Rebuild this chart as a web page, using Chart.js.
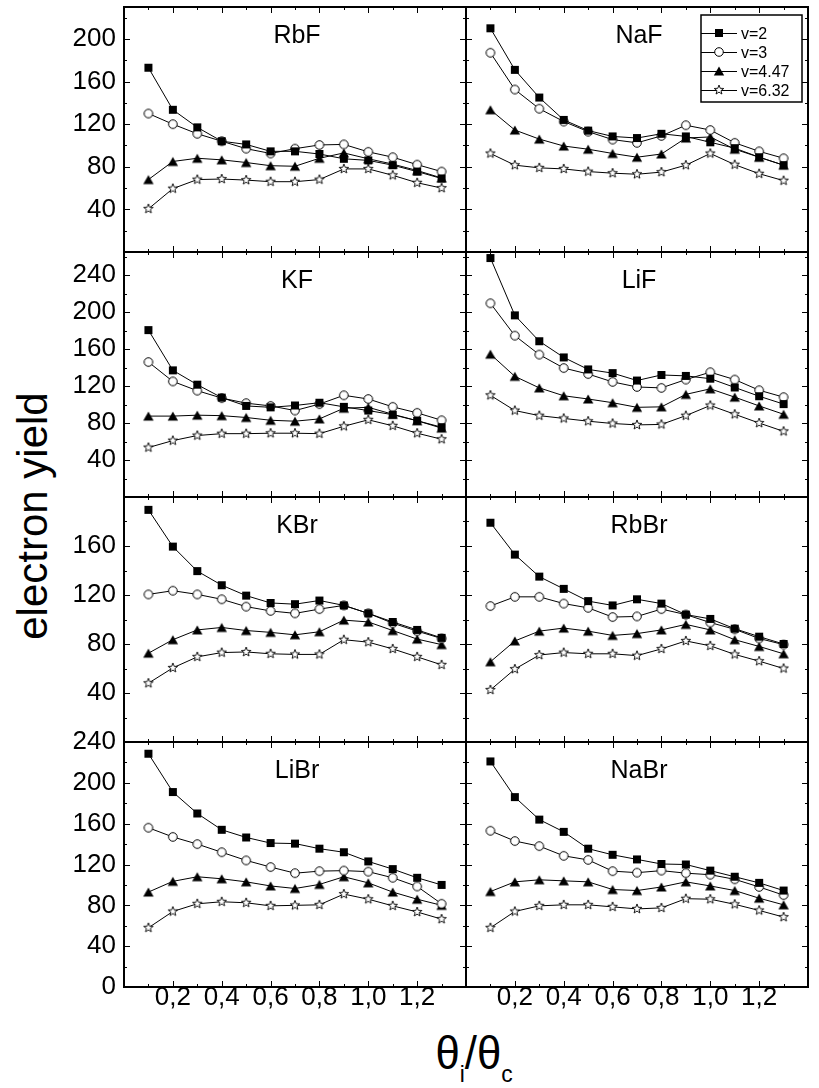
<!DOCTYPE html>
<html>
<head>
<meta charset="utf-8">
<title>electron yield</title>
<script src="https://cdn.jsdelivr.net/npm/chart.js@4.4.0/dist/chart.umd.min.js"></script>
<style>
  body { margin: 0; background: #fff; }
  #wrap { position: relative; width: 819px; height: 1088px; overflow: hidden; font-family: "Liberation Sans", Arial, sans-serif; }
  #wrap canvas { position: absolute; }
  #ytitle { position: absolute; left: 33px; top: 516px; transform: translate(-50%, -50%) rotate(-90deg); font-size: 42px; line-height: 1; white-space: nowrap; color: #000; }
  #xtitle { position: absolute; left: 474px; top: 1030px; transform: translateX(-50%) scaleX(0.95); font-size: 46px; line-height: 1; white-space: nowrap; color: #000; }
  #xtitle sub { font-size: 24px; vertical-align: -13px; }
</style>
</head>
<body>
<div id="wrap">
  <div id="ytitle">electron yield</div>
  <div id="xtitle">θ<sub>i</sub>/θ<sub>c</sub></div>
</div>
<script>
'use strict';

// incidence angle over critical angle
let thetaRatio = [0.1, 0.2, 0.3, 0.4, 0.5, 0.6, 0.7, 0.8, 0.9, 1.0, 1.1, 1.2, 1.3];
let xTickValues = [0.2, 0.4, 0.6, 0.8, 1.0, 1.2];
let xTickLabels = ['0,2', '0,4', '0,6', '0,8', '1,0', '1,2'];
let seriesLabels = ['v=2', 'v=3', 'v=4.47', 'v=6.32'];

// each salt: yields for v=2, v=3, v=4.47, v=6.32
let RbF = [
  [173, 133.5, 117, 104, 101, 94.5, 94.5, 92, 87.5, 86, 81.5, 75.5, 69],
  [130, 120, 111, 104, 97, 92.5, 97, 100.5, 101, 94, 89, 82, 75.5],
  [68, 85, 88, 86.5, 84, 81, 80.5, 88, 93, 87.5, 82.5, 76.5, 69.5],
  [40.5, 59.5, 68, 68.5, 67.5, 66, 66, 68, 78, 78, 72, 65, 60]
];
let NaF = [
  [210, 171, 145, 124, 114, 108.5, 107, 111, 108.5, 103, 97.5, 89, 81.5],
  [187, 152.5, 134.5, 122.5, 113, 105.5, 102.5, 109, 119, 114.5, 102.5, 94.5, 88],
  [133.5, 114.5, 106, 99.5, 96.5, 92.5, 89, 92, 107, 108, 96.5, 89, 81.5],
  [92.5, 81.5, 79, 78, 75.5, 74, 73, 75, 81.5, 92.5, 82, 73.5, 67]
];
let KF = [
  [180.5, 137, 121.5, 107.5, 98.5, 97, 99, 102, 97.5, 93.5, 89, 82.5, 75.5],
  [146, 125, 115, 107, 101.5, 98.5, 93.5, 100.5, 110, 106, 97.5, 91, 83],
  [87.5, 87.5, 88.5, 88, 86, 83, 82, 84.5, 96, 97, 89.5, 82.5, 74.5],
  [53.5, 61, 66.5, 68.5, 68.5, 69, 69, 68.5, 76.5, 83.5, 77, 69, 62.5]
];
let LiF = [
  [258.5, 196.5, 168.5, 151, 138, 134, 126, 132, 131, 128, 118.5, 109, 100.5],
  [209.5, 174.5, 154, 139.5, 133, 124.5, 119, 118, 127, 135, 127, 115.5, 108],
  [154.5, 130.5, 118, 109.5, 106, 102, 97, 97.5, 111, 117, 108, 98.5, 89.5],
  [110, 93.5, 88, 85, 82, 79.5, 78, 78.5, 88, 99, 89.5, 80, 71]
];
let KBr = [
  [189.5, 159.5, 139.5, 128, 119.5, 113.5, 112.5, 115.5, 111.5, 105, 98, 91.5, 85],
  [120.5, 123.5, 120.5, 116.5, 110.5, 107, 105, 108.5, 111.5, 105, 97, 90.5, 84.5],
  [72.5, 83.5, 91.5, 93.5, 91, 89.5, 87.5, 90, 99.5, 98, 91, 84, 79.5],
  [48, 60.5, 69.5, 73, 73.5, 72, 71.5, 71.5, 83.5, 81.5, 76, 69.5, 63]
];
let RbBr = [
  [179, 153, 135, 125, 115, 111.5, 116.5, 113, 104, 100.5, 92.5, 86, 80],
  [111, 118.5, 118.5, 113, 109.5, 102, 102.5, 108.5, 104, 97.5, 92, 84.5, 79.5],
  [65.5, 82.5, 90.5, 93, 90.5, 87, 88.5, 91.5, 96, 91.5, 83.5, 78, 72],
  [42.5, 59.5, 71, 73, 72, 72, 70.5, 76, 82.5, 78.5, 71.5, 66, 60]
];
let LiBr = [
  [228.5, 191, 170, 154, 146.5, 141, 140.5, 135.5, 132, 123, 115.5, 107, 100],
  [156, 147, 140, 132, 124, 117.5, 111.5, 113.5, 114, 113, 107, 98.5, 81.5],
  [93, 103.5, 108, 106, 103, 99, 96.5, 100.5, 108, 102, 93, 86, 80],
  [58, 74, 81.5, 83.5, 82.5, 79.5, 80, 80.5, 91, 86, 79.5, 73.5, 66.5]
];
let NaBr = [
  [221, 186, 164, 152, 135.5, 129.5, 125, 120.5, 120, 114, 108, 102, 94.5],
  [153, 143, 138, 128.5, 124.5, 113.5, 112, 114, 111.5, 110, 105.5, 98, 90],
  [93.5, 103, 105, 104, 103, 95.5, 94.5, 98, 103, 99, 94.5, 87, 80.5],
  [58, 74, 79.5, 80.5, 80.5, 78.5, 76.5, 77.5, 86.5, 86, 81, 75, 68.5]
];

// y range and labelled ticks of each row
let rowMax = [230, 265, 200, 240];
let rowTicks = [
  [40, 80, 120, 160, 200],
  [40, 80, 120, 160, 200, 240],
  [40, 80, 120, 160],
  [0, 40, 80, 120, 160, 200, 240]
];

let panels = [
  { name: 'RbF', data: RbF, row: 0, col: 0 },
  { name: 'NaF', data: NaF, row: 0, col: 1, legend: true },
  { name: 'KF', data: KF, row: 1, col: 0 },
  { name: 'LiF', data: LiF, row: 1, col: 1 },
  { name: 'KBr', data: KBr, row: 2, col: 0 },
  { name: 'RbBr', data: RbBr, row: 2, col: 1 },
  { name: 'LiBr', data: LiBr, row: 3, col: 0 },
  { name: 'NaBr', data: NaBr, row: 3, col: 1 }
];

// plot boxes
let colLeft = [124, 466];
let rowTop = [7, 252, 497, 742];
let plotW = 342;
let plotH = 245;

Chart.defaults.font.family = '"Liberation Sans", Arial, sans-serif';
Chart.defaults.color = '#000';

// marker images for the four series
function makeMarker(kind) {
  let c = document.createElement('canvas');
  c.width = 14;
  c.height = 14;
  let g = c.getContext('2d');
  g.translate(7, 7);
  g.strokeStyle = '#000';
  g.fillStyle = '#000';
  g.lineWidth = 1;
  if (kind === 'square') {
    g.fillRect(-4, -4, 8, 8);
  } else if (kind === 'circle') {
    g.beginPath();
    g.arc(0, 0, 4.3, 0, Math.PI * 2);
    g.fillStyle = '#fff';
    g.fill();
    g.stroke();
  } else if (kind === 'triangle') {
    g.beginPath();
    g.moveTo(0, -4.6);
    g.lineTo(5.2, 4.4);
    g.lineTo(-5.2, 4.4);
    g.closePath();
    g.fill();
  } else {
    g.beginPath();
    for (let k = 0; k < 10; k++) {
      let r = k % 2 ? 2.1 : 5;
      let a = -Math.PI / 2 + k * Math.PI / 5;
      if (k === 0) g.moveTo(r * Math.cos(a), r * Math.sin(a));
      else g.lineTo(r * Math.cos(a), r * Math.sin(a));
    }
    g.closePath();
    g.fillStyle = '#fff';
    g.fill();
    g.lineWidth = 0.9;
    g.stroke();
  }
  return c;
}
let markers = [makeMarker('square'), makeMarker('circle'), makeMarker('triangle'), makeMarker('star')];

// frame, inward ticks, salt name and the legend box
let panelDecor = {
  id: 'panelDecor',
  afterDraw(chart, args, opts) {
    let ctx = chart.ctx;
    let a = chart.chartArea;
    let xs = chart.scales.x;
    let ys = chart.scales.y;
    ctx.save();
    ctx.strokeStyle = '#000';
    ctx.lineWidth = 1;
    ctx.beginPath();
    for (let i = 1; i <= 13; i++) {
      let px = Math.round(xs.getPixelForValue(i / 10)) + 0.5;
      let len = i % 2 === 0 ? 6 : 3;
      ctx.moveTo(px, a.bottom);
      ctx.lineTo(px, a.bottom - len);
      ctx.moveTo(px, a.top);
      ctx.lineTo(px, a.top + len);
    }
    for (let v = 20; v < ys.max; v += 20) {
      let py = Math.round(ys.getPixelForValue(v)) + 0.5;
      let len = v % 40 === 0 ? 6 : 3;
      ctx.moveTo(a.left, py);
      ctx.lineTo(a.left + len, py);
      ctx.moveTo(a.right, py);
      ctx.lineTo(a.right - len, py);
    }
    ctx.stroke();
    ctx.lineWidth = 2;
    ctx.strokeRect(a.left, a.top, a.right - a.left, a.bottom - a.top);

    ctx.fillStyle = '#000';
    ctx.font = '25px "Liberation Sans", Arial, sans-serif';
    ctx.textAlign = 'center';
    ctx.textBaseline = 'alphabetic';
    ctx.fillText(opts.name, (a.left + a.right) / 2 + 2, a.top + 36);

    if (opts.legend) {
      let x0 = a.right - 107;
      let y0 = a.top + 8;
      ctx.lineWidth = 1.5;
      ctx.strokeRect(x0, y0, 101, 87);
      ctx.font = '16px "Liberation Sans", Arial, sans-serif';
      ctx.textAlign = 'left';
      ctx.textBaseline = 'middle';
      chart.data.datasets.forEach((ds, k) => {
        let y = Math.round(y0 + 18 + k * 19) + 0.5;
        ctx.lineWidth = 1;
        ctx.beginPath();
        ctx.moveTo(x0, y);
        ctx.lineTo(x0 + 36, y);
        ctx.stroke();
        ctx.drawImage(ds.pointStyle, x0 + 18 - 7, y - 7.5);
        ctx.fillText(ds.label, x0 + 40, y + 1);
      });
    }
    ctx.restore();
  }
};

let wrap = document.getElementById('wrap');

panels.forEach(p => {
  let bottomRow = p.row === 3;
  // margins leave room for tick labels outside the plot box
  let ml = p.col === 0 ? 70 : 10;
  let mt = 30;
  let mr = 10;
  let mb = bottomRow ? 45 : 30;
  let canvas = document.createElement('canvas');
  canvas.width = ml + plotW + mr;
  canvas.height = mt + plotH + mb;
  canvas.style.left = (colLeft[p.col] - ml) + 'px';
  canvas.style.top = (rowTop[p.row] - mt) + 'px';
  wrap.appendChild(canvas);

  let datasets = p.data.map((vals, k) => ({
    label: seriesLabels[k],
    data: thetaRatio.map((x, i) => ({ x: x, y: vals[i] })),
    borderColor: '#000',
    borderWidth: 1,
    pointStyle: markers[k],
    pointRadius: 5,
    pointHoverRadius: 5,
    tension: 0,
    fill: false
  }));

  new Chart(canvas, {
    type: 'line',
    data: { datasets: datasets },
    options: {
      responsive: false,
      animation: false,
      devicePixelRatio: 1,
      events: [],
      layout: { autoPadding: false, padding: { top: mt, right: mr, left: 0, bottom: 0 } },
      plugins: {
        legend: { display: false },
        tooltip: { enabled: false },
        panelDecor: { name: p.name, legend: !!p.legend }
      },
      scales: {
        x: {
          type: 'linear',
          min: 0,
          max: 1.4,
          grid: { display: false, drawTicks: false },
          border: { display: false },
          ticks: {
            display: bottomRow,
            padding: -5,
            font: { size: 26 },
            callback: (value, index) => xTickLabels[index]
          },
          afterBuildTicks: s => { s.ticks = xTickValues.map(v => ({ value: v })); },
          afterFit: s => { s.height = mb; }
        },
        y: {
          min: 0,
          max: rowMax[p.row],
          grid: { display: false, drawTicks: false },
          border: { display: false },
          ticks: {
            display: p.col === 0,
            padding: 8,
            font: { size: 26 },
            callback: value => String(value)
          },
          afterBuildTicks: s => { s.ticks = rowTicks[p.row].map(v => ({ value: v })); },
          afterFit: s => { s.width = ml; }
        }
      }
    },
    plugins: [panelDecor]
  });
});
</script>
</body>
</html>
